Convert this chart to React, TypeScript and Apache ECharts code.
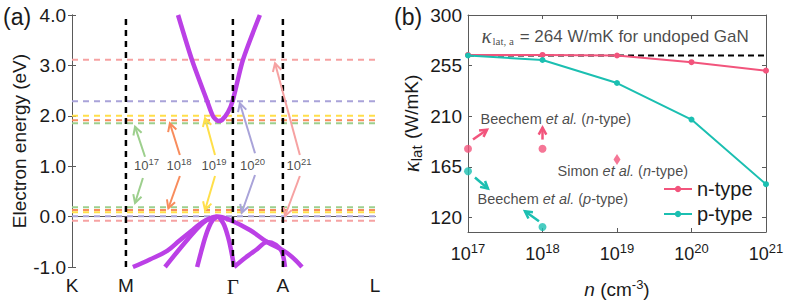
import React, { useEffect, useRef } from "react";
import * as echarts from "echarts";

const SANS = "Liberation Sans, Arial, sans-serif";
const SERIF = "Liberation Serif, Times New Roman, serif";
const TXT = "#1a1a1a";
const AXC = "#5a5a5a";

// ---------------- Panel (a): band structure ----------------
const kLabels = ["K", "M", "Γ", "A", "L"];
const kLabelPos = [0, 0.178, 0.531, 0.696, 1];
const kDashPos = [0.178, 0.531, 0.696];

const cbK = [0.35, 0.396, 0.446, 0.465, 0.482, 0.495, 0.515, 0.531, 0.564, 0.62];
const cbE = [4.0, 3.107, 2.294, 1.996, 1.897, 1.917, 2.075, 2.313, 3.107, 4.0];

const vb1K = [0.201, 0.257, 0.314, 0.356, 0.399, 0.432, 0.455, 0.479, 0.521, 0.587, 0.644, 0.71, 0.759];
const vb1E = [-1.0, -0.85, -0.68, -0.47, -0.26, -0.105, -0.034, 0.0, -0.067, -0.266, -0.504, -0.722, -1.0];
const vb2K = [0.307, 0.347, 0.38, 0.406, 0.432, 0.455, 0.479];
const vb2E = [-1.0, -0.702, -0.464, -0.286, -0.127, -0.038, 0.0];
const vb3K = [0.413, 0.426, 0.439, 0.452, 0.465, 0.479];
const vb3E = [-1.0, -0.702, -0.425, -0.206, -0.067, 0.0];
const vb4K = [0.485, 0.502, 0.515, 0.525, 0.535];
const vb4E = [0.0, -0.167, -0.405, -0.663, -1.0];
const vb5K = [0.535, 0.571, 0.607, 0.644, 0.673, 0.693, 0.703];
const vb5E = [-1.0, -0.821, -0.663, -0.504, -0.563, -0.702, -1.0];

const dopingExp = ["17", "18", "19", "20", "21"];
const dopingColors = ["#9dcf8d", "#f88c5c", "#ffdf4a", "#a9a3d9", "#f6a2a2"];
const cbLevels = [1.85, 1.91, 2.0, 2.29, 3.11];
const vbLevels = [0.185, 0.13, 0.085, 0.005, -0.08];

const upTailK = [0.241, 0.356, 0.472, 0.604, 0.752];
const upTailE = [1.188, 1.222, 1.222, 1.256, 1.222];
const upTipK = [0.208, 0.323, 0.439, 0.554, 0.67];
const upTipE = [1.784, 1.851, 1.95, 2.248, 3.042];
const labelK = [0.246, 0.353, 0.469, 0.596, 0.749];
const labelE = [1.02, 1.02, 1.02, 1.02, 1.02];
const downTailK = [0.234, 0.356, 0.472, 0.604, 0.752];
const downTailE = [0.766, 0.806, 0.806, 0.825, 0.806];
const downTipK = [0.208, 0.318, 0.439, 0.56, 0.703];
const downTipE = [0.27, 0.165, 0.131, 0.077, 0.012];

// ---------------- Panel (b): thermal conductivity ----------------
const dopingN = [1e17, 1e18, 1e19, 1e20, 1e21];
const kappaN = [264.5, 264.5, 264, 258, 250.5];
const kappaP = [264, 260, 239.5, 207, 149.5];
const kappaUndoped = 264;
const kappaTicks = [120, 165, 210, 255, 300];

const beechemNX = [1e17, 1e18];
const beechemNY = [181, 181];
const simonNX = [1e19];
const simonNY = [171.5];
const beechemPX = [1e17, 1e18];
const beechemPY = [161, 111.5];

// arrows: [x0, y0, x1, y1, colorIndex]  (0 = pink, 1 = teal)
const expArrows = [
  [1.167e17, 189.2, 1.8e17, 198, 0],
  [1e18, 189.2, 1e18, 199.8, 0],
  [1.24e17, 155.5, 1.85e17, 145.7, 1],
  [8.97e17, 116.5, 5.82e17, 125.4, 1],
];

const PINK = "#f2547c";
const TEAL = "#1bbfb1";
const PURPLE = "#bb40e6";

function arrowRender(colors: string[], lw: number, headLen: number) {
  return (params: any, api: any) => {
    const p0 = api.coord([api.value(0), api.value(1)]);
    const p1 = api.coord([api.value(2), api.value(3)]);
    const c = colors[api.value(4)];
    const ang = Math.atan2(p1[1] - p0[1], p1[0] - p0[0]);
    const a = 0.5;
    const h1 = [p1[0] - headLen * Math.cos(ang - a), p1[1] - headLen * Math.sin(ang - a)];
    const h2 = [p1[0] - headLen * Math.cos(ang + a), p1[1] - headLen * Math.sin(ang + a)];
    return {
      type: "group",
      children: [
        { type: "line", shape: { x1: p0[0], y1: p0[1], x2: p1[0], y2: p1[1] }, style: { stroke: c, lineWidth: lw } },
        { type: "polyline", shape: { points: [h1, p1, h2] }, style: { stroke: c, lineWidth: lw, fill: null } },
      ],
    };
  };
}

export default function App() {
  const ref = useRef<HTMLDivElement>(null);
  useEffect(() => {
    document.body.style.margin = "0";
    const chart = echarts.init(ref.current!, null, { renderer: "svg" });

    const zip = (xs: number[], ys: number[]) => xs.map((x, i) => [x, ys[i]]);
    const series: any[] = [];

    // level lines
    dopingColors.forEach((c, i) => {
      [cbLevels[i], vbLevels[i]].forEach((lv) => {
        series.push({
          type: "line", xAxisIndex: 0, yAxisIndex: 0, data: [[0, lv], [1, lv]],
          showSymbol: false, silent: true, z: 1,
          lineStyle: { color: c, width: 2, type: [6, 5] },
        });
      });
    });
    // bands
    [[cbK, cbE, 0.25], [vb1K, vb1E, 0.4], [vb2K, vb2E, 0.35], [vb3K, vb3E, 0.3], [vb4K, vb4E, 0.3], [vb5K, vb5E, 0.3]].forEach(([ks, es, sm]: any) => {
      series.push({
        type: "line", xAxisIndex: 0, yAxisIndex: 0, data: zip(ks, es), smooth: sm,
        showSymbol: false, silent: true, z: 3, clip: true,
        lineStyle: { color: PURPLE, width: 4.5 },
      });
    });
    // high-symmetry dashed verticals
    kDashPos.forEach((k) => {
      series.push({
        type: "line", xAxisIndex: 0, yAxisIndex: 0, data: [[k, -1], [k, 4]],
        showSymbol: false, silent: true, z: 4,
        lineStyle: { color: "#000", width: 2.5, type: [6, 5] },
      });
    });
    // transition arrows
    const aArrows: number[][] = [];
    dopingColors.forEach((_, i) => {
      aArrows.push([upTailK[i], upTailE[i], upTipK[i], upTipE[i], i]);
      aArrows.push([downTailK[i], downTailE[i], downTipK[i], downTipE[i], i]);
    });
    series.push({
      type: "custom", xAxisIndex: 0, yAxisIndex: 0, data: aArrows, z: 5, silent: true, clip: false,
      encode: { x: 0, y: 1 },
      renderItem: arrowRender(dopingColors, 2, 9),
    });
    series.push({
      type: "scatter", xAxisIndex: 0, yAxisIndex: 0, data: zip(labelK, labelE), symbolSize: 1, z: 6, silent: true,
      itemStyle: { color: "rgba(0,0,0,0)" },
      label: {
        show: true, position: "inside",
        formatter: (p: any) => `{b|10}{s|${dopingExp[p.dataIndex]}}`,
        rich: {
          b: { fontSize: 13, fontFamily: SANS, color: TXT },
          s: { fontSize: 9.5, fontFamily: SANS, color: TXT, padding: [0, 0, 7, 0] },
        },
      },
    });

    // ---- panel b ----
    series.push({
      name: "undoped", type: "line", xAxisIndex: 2, yAxisIndex: 2,
      data: [[1e17, kappaUndoped], [1e21, kappaUndoped]], showSymbol: false, silent: true, z: 1,
      lineStyle: { color: "#000", width: 2, type: [6, 4] },
    });
    series.push({
      name: "n-type", type: "line", xAxisIndex: 2, yAxisIndex: 2, data: zip(dopingN, kappaN),
      symbol: "circle", symbolSize: 6, z: 3,
      lineStyle: { color: PINK, width: 2 }, itemStyle: { color: PINK },
    });
    series.push({
      name: "p-type", type: "line", xAxisIndex: 2, yAxisIndex: 2, data: zip(dopingN, kappaP),
      symbol: "circle", symbolSize: 6, z: 3,
      lineStyle: { color: TEAL, width: 2 }, itemStyle: { color: TEAL },
    });
    series.push({
      type: "scatter", xAxisIndex: 2, yAxisIndex: 2, data: zip(beechemNX, beechemNY),
      symbol: "circle", symbolSize: 8, itemStyle: { color: PINK }, z: 4,
    });
    series.push({
      type: "scatter", xAxisIndex: 2, yAxisIndex: 2, data: zip(simonNX, simonNY),
      symbol: "diamond", symbolSize: [7, 11], itemStyle: { color: PINK }, z: 4,
    });
    series.push({
      type: "scatter", xAxisIndex: 2, yAxisIndex: 2, data: zip(beechemPX, beechemPY),
      symbol: "circle", symbolSize: 8, itemStyle: { color: TEAL }, z: 4,
    });
    series.push({
      type: "custom", xAxisIndex: 2, yAxisIndex: 2, data: expArrows, z: 5, silent: true, clip: false,
      encode: { x: 0, y: 1 },
      renderItem: arrowRender([PINK, TEAL], 2.5, 8),
    });
    // annotation texts anchored in data coordinates
    const annX = [1.54e17, 1.494e17, 1.614e18, 1.362e17];
    const annY = [280.5, 206.9, 160.8, 136];
    const annText = [
      "{k|κ}{sub|lat, a}{t| = 264 W/mK for undoped GaN}",
      "{a|Beechem }{i|et al.}{a| (}{i|n}{a|-type)}",
      "{a|Simon }{i|et al.}{a| (}{i|n}{a|-type)}",
      "{a|Beechem }{i|et al.}{a| (}{i|p}{a|-type)}",
    ];
    series.push({
      type: "scatter", xAxisIndex: 2, yAxisIndex: 2, data: zip(annX, annY), symbolSize: 1, z: 6, silent: true,
      itemStyle: { color: "rgba(0,0,0,0)" },
      label: {
        show: true, position: [0, 0], align: "left", verticalAlign: "middle",
        formatter: (p: any) => annText[p.dataIndex],
        rich: {
          k: { fontSize: 21, fontFamily: SERIF, fontStyle: "italic", color: TXT },
          sub: { fontSize: 11, fontFamily: SERIF, color: TXT, padding: [9, 1, 0, 1] },
          t: { fontSize: 17, fontFamily: SANS, color: TXT },
          a: { fontSize: 14.5, fontFamily: SANS, color: TXT },
          i: { fontSize: 14.5, fontFamily: SANS, fontStyle: "italic", color: TXT },
        },
      },
    });

    const supRich = {
      b: { fontSize: 18, fontFamily: SANS, color: TXT },
      s: { fontSize: 13, fontFamily: SANS, color: TXT, padding: [0, 0, 10, 0] },
    };

    const option: any = {
      animation: false,
      textStyle: { fontFamily: SANS },
      grid: [
        { left: 72, top: 15, width: 303, height: 252 },
        { left: 468, top: 15, width: 298, height: 218 },
      ],
      legend: {
        data: ["n-type", "p-type"], orient: "vertical", left: 658, top: 174,
        itemWidth: 28, itemHeight: 8, itemGap: 5,
        textStyle: { fontSize: 20, fontFamily: SANS, color: TXT, lineHeight: 20 },
      },
      graphic: [
        { type: "text", left: 3, top: 5, style: { text: "(a)", font: `23px ${SANS}`, fill: TXT } },
        { type: "text", left: 394, top: 5, style: { text: "(b)", font: `23px ${SANS}`, fill: TXT } },
      ],
      xAxis: [
        {
          type: "value", gridIndex: 0, min: 0, max: 1, position: "bottom",
          axisLine: { lineStyle: { color: AXC, width: 1 } }, axisTick: { show: false }, splitLine: { show: false },
          axisLabel: {
            customValues: kLabelPos, margin: 9,
            formatter: (v: number) => {
              let idx = 0, best = 9;
              kLabelPos.forEach((p, i) => { if (Math.abs(p - v) < best) { best = Math.abs(p - v); idx = i; } });
              return kLabels[idx] === "Γ" ? `{g|Γ}` : `{r|${kLabels[idx]}}`;
            },
            rich: {
              r: { fontSize: 19, fontFamily: SANS, color: TXT },
              g: { fontSize: 21, fontFamily: SERIF, color: TXT },
            },
          },
        },
        {
          type: "value", gridIndex: 0, min: 0, max: 1, position: "top",
          axisLine: { lineStyle: { color: AXC, width: 1 } }, axisTick: { show: false },
          axisLabel: { show: false }, splitLine: { show: false },
        },
        {
          type: "log", gridIndex: 1, min: 1e17, max: 1e21, logBase: 10, position: "bottom",
          axisLine: { lineStyle: { color: AXC, width: 1 } },
          axisTick: { inside: true, length: 4, lineStyle: { color: AXC } },
          minorTick: { show: false }, splitLine: { show: false },
          axisLabel: {
            margin: 10,
            formatter: (v: number) => `{b|10}{s|${Math.round(Math.log10(v))}}`,
            rich: supRich,
          },
          name: "{i|n}{t| (cm}{s|-3}{t|)}", nameLocation: "middle", nameGap: 46,
          nameTextStyle: {
            rich: {
              i: { fontSize: 19, fontFamily: SANS, fontStyle: "italic", color: TXT },
              t: { fontSize: 19, fontFamily: SANS, color: TXT },
              s: { fontSize: 13, fontFamily: SANS, color: TXT, padding: [0, 0, 10, 0] },
            },
          },
        },
        {
          type: "log", gridIndex: 1, min: 1e17, max: 1e21, logBase: 10, position: "top",
          axisLine: { lineStyle: { color: AXC, width: 1 } },
          axisTick: { inside: true, length: 4, lineStyle: { color: AXC } },
          axisLabel: { show: false }, splitLine: { show: false },
        },
      ],
      yAxis: [
        {
          type: "value", gridIndex: 0, min: -1, max: 4, interval: 1, position: "left",
          axisLine: { show: true, lineStyle: { color: AXC, width: 1 } },
          axisTick: { show: true, inside: true, length: 4, lineStyle: { color: AXC } },
          splitLine: { show: false },
          axisLabel: { fontSize: 19, color: TXT, fontFamily: SANS, margin: 6, formatter: (v: number) => v.toFixed(1) },
          name: "Electron energy (eV)", nameLocation: "middle", nameGap: 42, nameRotate: 90,
          nameTextStyle: { fontSize: 19, color: TXT, fontFamily: SANS },
        },
        {
          type: "value", gridIndex: 0, min: -1, max: 4, interval: 1, position: "right",
          axisLine: { show: true, lineStyle: { color: AXC, width: 1 } },
          axisTick: { show: true, inside: true, length: 4, lineStyle: { color: AXC } },
          splitLine: { show: false }, axisLabel: { show: false },
        },
        {
          type: "value", gridIndex: 1, min: 107, max: 300, position: "left",
          axisLine: { show: true, lineStyle: { color: AXC, width: 1 } },
          axisTick: { show: true, inside: true, length: 4, customValues: kappaTicks, lineStyle: { color: AXC } },
          splitLine: { show: false },
          axisLabel: { customValues: kappaTicks, fontSize: 19, color: TXT, fontFamily: SANS, margin: 6 },
          name: "{k|κ}{sub|lat}{t| (W/mK)}", nameLocation: "middle", nameGap: 44, nameRotate: 90,
          nameTextStyle: {
            rich: {
              k: { fontSize: 23, fontFamily: SERIF, fontStyle: "italic", color: TXT },
              sub: { fontSize: 15, fontFamily: SANS, color: TXT, padding: [10, 1, 0, 0] },
              t: { fontSize: 19, fontFamily: SANS, color: TXT },
            },
          },
        },
        {
          type: "value", gridIndex: 1, min: 107, max: 300, position: "right",
          axisLine: { show: true, lineStyle: { color: AXC, width: 1 } },
          axisTick: { show: true, inside: true, length: 4, customValues: kappaTicks, lineStyle: { color: AXC } },
          splitLine: { show: false }, axisLabel: { show: false },
        },
      ],
      series,
    };
    chart.setOption(option);
    return () => chart.dispose();
  }, []);
  return <div ref={ref} style={{ width: 788, height: 304 }} />;
}
